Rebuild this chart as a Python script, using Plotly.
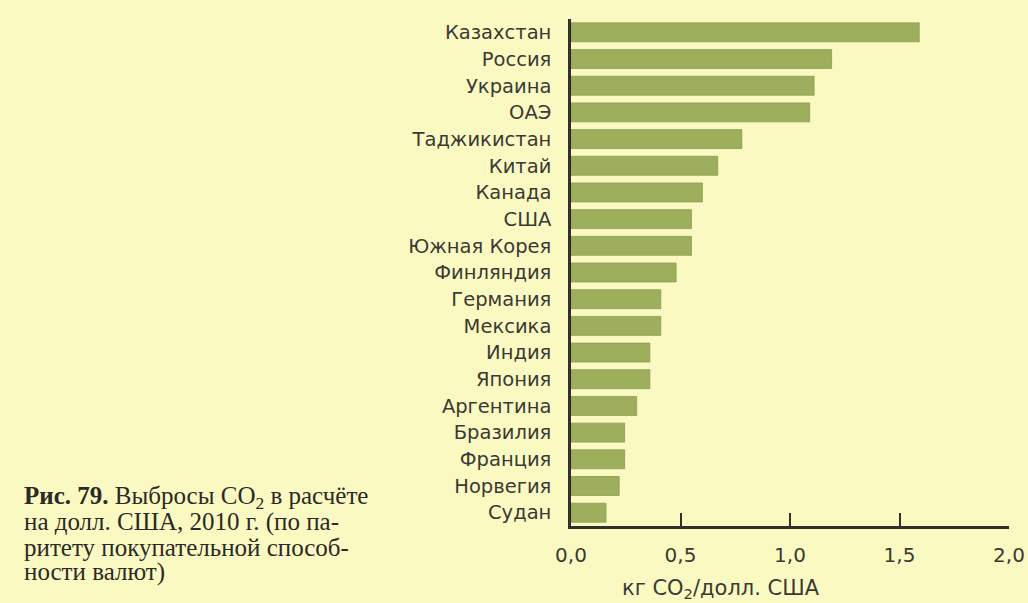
import plotly.graph_objects as go

# CO2 emissions per US dollar of GDP (PPP), 2010
countries = [
    "Казахстан", "Россия", "Украина", "ОАЭ", "Таджикистан", "Китай",
    "Канада", "США", "Южная Корея", "Финляндия", "Германия", "Мексика",
    "Индия", "Япония", "Аргентина", "Бразилия", "Франция", "Норвегия", "Судан",
]
emissions = [
    1.59, 1.19, 1.11, 1.09, 0.78, 0.67,
    0.60, 0.55, 0.55, 0.48, 0.41, 0.41,
    0.36, 0.36, 0.30, 0.245, 0.245, 0.22, 0.16,
]
x_ticks = [0, 0.5, 1.0, 1.5, 2.0]

caption_lines = [
    "<b>Рис. 79.</b> Выбросы CO<sub>2</sub> в расчёте",
    "на долл. США, 2010 г. (по па-",
    "ритету покупательной способ-",
    "ности валют)",
]

paper = "#fbf9c2"
bar_fill = "#9dae5c"
axis_col = "#33302a"
text_col = "#3a3a34"
sans = "DejaVu Sans"

W, H = 1028, 603
L, R, T, B = 571, 19, 19, 77
plot_w, plot_h = W - L - R, H - T - B


def px_to_paper(px, py):
    return (px - L) / plot_w, (H - B - py) / plot_h


fig = go.Figure(
    go.Bar(
        x=emissions,
        y=countries,
        orientation="h",
        marker=dict(color=bar_fill, line=dict(color="#8c9c50", width=0.8)),
        width=0.71,
        hoverinfo="skip",
    )
)

fig.update_layout(
    width=W,
    height=H,
    margin=dict(l=L, r=R, t=T, b=B),
    paper_bgcolor=paper,
    plot_bgcolor=paper,
    separators=", ",
    showlegend=False,
    font=dict(family=sans, size=18, color=text_col),
    xaxis=dict(
        range=[0, 2.0],
        tickvals=x_ticks,
        tickformat=".1f",
        ticks="inside",
        ticklen=13,
        tickwidth=2,
        tickcolor=axis_col,
        showline=True,
        linecolor=axis_col,
        linewidth=2.5,
        showgrid=False,
        zeroline=False,
        automargin=False,
        ticklabelstandoff=9,
        tickfont=dict(family=sans, size=20),
        fixedrange=True,
    ),
    yaxis=dict(
        categoryorder="array",
        categoryarray=countries,
        autorange="reversed",
        showline=True,
        linecolor=axis_col,
        linewidth=2.5,
        showgrid=False,
        ticks="",
        ticklabelstandoff=13,
        automargin=False,
        tickfont=dict(family=sans, size=19.5),
        fixedrange=True,
    ),
)

# Axis title, set off to the left of the plot centre
tx, ty = px_to_paper(721, 589)
fig.add_annotation(
    text="кг CO<sub>2</sub>/долл. США",
    xref="paper", yref="paper",
    x=tx, y=ty,
    xanchor="center", yanchor="middle",
    showarrow=False,
    font=dict(family=sans, size=21, color=text_col),
)

# Figure caption in the lower-left corner, one line per annotation
for i, line in enumerate(caption_lines):
    cx, cy = px_to_paper(22, 497 + 25 * i)
    fig.add_annotation(
        text=line,
        xref="paper", yref="paper",
        x=cx, y=cy,
        xanchor="left", yanchor="middle",
        align="left",
        showarrow=False,
        font=dict(family="Liberation Serif", size=25, color="#2a2a26"),
    )

fig.write_html("out.html")
